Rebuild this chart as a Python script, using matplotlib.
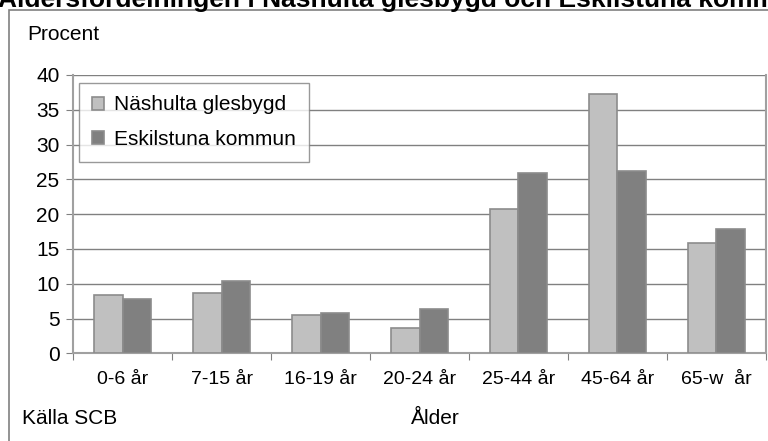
import matplotlib.pyplot as plt
from matplotlib.patches import Rectangle
import numpy as np

plt.rcParams['font.family'] = ['Liberation Sans', 'DejaVu Sans']

aldrar = ["0-6 år", "7-15 år", "16-19 år", "20-24 år", "25-44 år", "45-64 år", "65-w  år"]
nashulta = [8.4, 8.6, 5.5, 3.7, 20.7, 37.2, 15.9]
eskilstuna = [7.8, 10.4, 5.8, 6.4, 25.9, 26.2, 17.9]

fig = plt.figure(figsize=(7.68, 4.41), dpi=100)
W, H = 768, 441
ax = fig.add_axes([73.3 / W, 1 - 353.3 / H, (765.7 - 73.3) / W, (353.3 - 75) / H])

x = np.arange(len(aldrar))
b = 0.29
ax.bar(x - b / 2, nashulta, b, color="#c0c0c0", edgecolor="#8c8c8c", linewidth=1.2,
       label="Näshulta glesbygd", zorder=3)
ax.bar(x + b / 2, eskilstuna, b, color="#808080", edgecolor="#8c8c8c", linewidth=1.2,
       label="Eskilstuna kommun", zorder=3)

ax.set_xlim(-0.5, len(aldrar) - 0.5)
ax.set_ylim(0, 40)
ax.set_yticks(range(0, 41, 5))
ax.yaxis.grid(True, color="#808080", linewidth=1, zorder=0)
ax.set_xticks(np.arange(-0.5, len(aldrar), 1.0))
ax.set_xticklabels([])
ax.set_xticks(x, minor=True)
ax.set_xticklabels(aldrar, minor=True, fontsize=14)
ax.tick_params(axis="x", which="minor", length=0, pad=13)
ax.tick_params(axis="x", which="major", length=5, color="#808080", direction="out")
ax.tick_params(axis="y", length=5, color="#808080", labelsize=15, pad=5)
for s in ax.spines.values():
    s.set_color("#a0a0a0")
    s.set_linewidth(1.5)
ax.spines["top"].set_visible(False)

leg = ax.legend(loc="upper left", bbox_to_anchor=(5.7 / 692.4, 1 - 8 / 278.3),
                fontsize=15, frameon=True, fancybox=False, edgecolor="#808080",
                handlelength=0.6, handleheight=0.6, handletextpad=0.5,
                labelspacing=0.75, borderpad=0.6, borderaxespad=0)
leg.get_frame().set_linewidth(1)
for h in leg.legend_handles:
    h.set_edgecolor("#8c8c8c")

# yttre ram
fig.patches.append(Rectangle((9 / W, -0.1), 1.2, 1 - 10 / H + 0.1, transform=fig.transFigure,
                             fill=False, edgecolor="#808080", linewidth=1.2))

# rubriken är avskuren upptill i originalet
fig.text(-2 / W, 1 - 7 / H, "Åldersfördelningen i Näshulta glesbygd och Eskilstuna kommun",
         fontsize=19, fontweight="bold", va="baseline", ha="left")
fig.text(27 / W, 1 - 35 / H, "Procent", fontsize=15, va="center")
fig.text(22 / W, 1 - 418 / H, "Källa SCB", fontsize=15, va="center")
fig.text(435 / W, 1 - 418 / H, "Ålder", fontsize=15, va="center", ha="center")

fig.savefig("out.png", dpi=100)
